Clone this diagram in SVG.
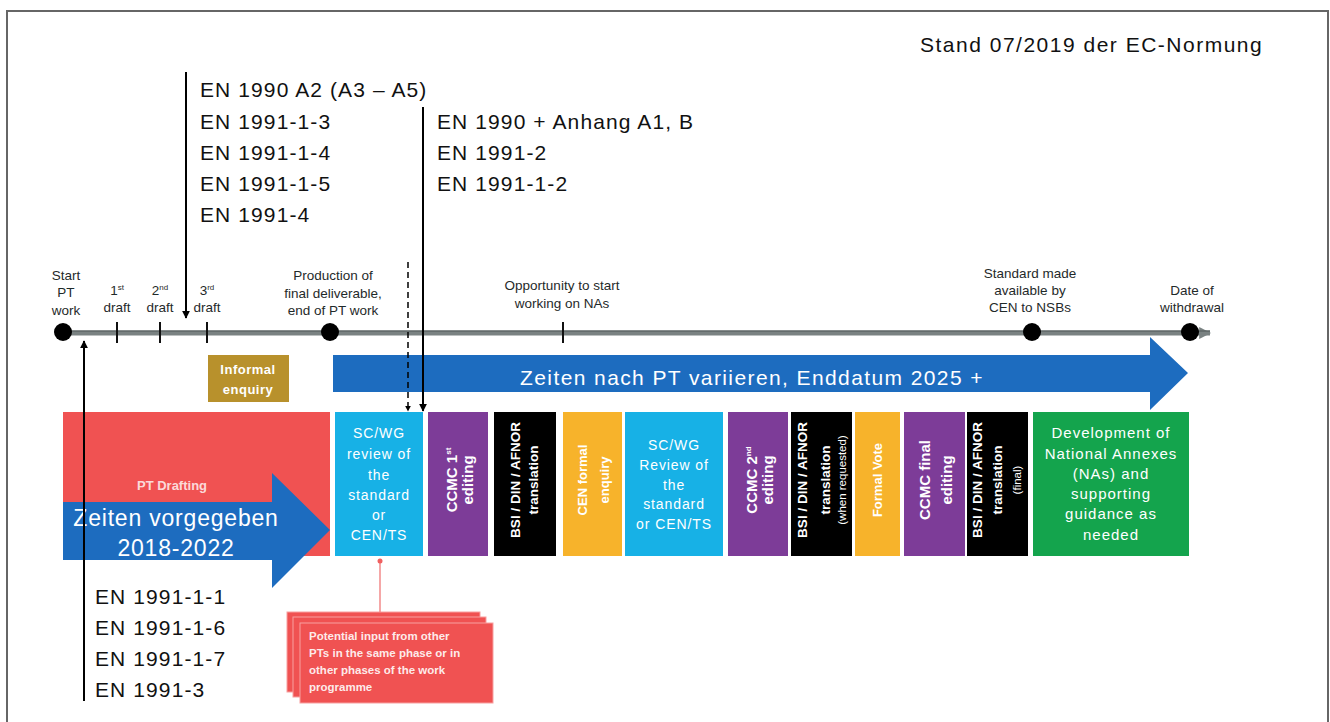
<svg xmlns="http://www.w3.org/2000/svg" width="1330" height="722" viewBox="0 0 1330 722">
<defs>
<marker id="ah" viewBox="0 0 10 10" refX="9" refY="5" markerWidth="4" markerHeight="4" orient="auto-start-reverse"><path d="M0,0 L10,5 L0,10 z" fill="#000"/></marker>
<marker id="tah" viewBox="0 0 10 10" refX="9" refY="5" markerWidth="2.4" markerHeight="2.4" orient="auto"><path d="M0,0 L10,5 L0,10 z" fill="#7a8282"/></marker>
<style>
.lab{font-family:"Liberation Sans",Arial,sans-serif;font-size:13.5px;fill:#1f2a2a;text-anchor:middle}
.en{font-family:"Liberation Sans",Arial,sans-serif;font-size:21px;fill:#111;letter-spacing:1.1px}
.wt{font-family:"Liberation Sans",Arial,sans-serif;fill:#fff;text-anchor:middle}
.bold{font-weight:bold}
.tick{stroke:#111;stroke-width:2}
.dot{fill:#000}
</style>
</defs>
<rect x="7" y="11" width="1321" height="720" fill="#fff" stroke="#666" stroke-width="2"/>
<text x="920" y="52" class="en" style="font-size:21px;letter-spacing:1.5px">Stand 07/2019 der EC-Normung</text>

<g id="timeline">
<line x1="63" y1="333" x2="1210" y2="333" stroke="#7a8282" stroke-width="5" marker-end="url(#tah)"/>
<line x1="63" y1="331" x2="1210" y2="331" stroke="#4e5656" stroke-width="1"/>
<line class="tick" x1="117" y1="322" x2="117" y2="343"/>
<line class="tick" x1="160" y1="322" x2="160" y2="343"/>
<line class="tick" x1="207" y1="322" x2="207" y2="343"/>
<line class="tick" x1="563" y1="322" x2="563" y2="343"/>
<circle class="dot" cx="63" cy="332" r="9"/>
<circle class="dot" cx="330" cy="332" r="9"/>
<circle class="dot" cx="1032" cy="332" r="9"/>
<circle class="dot" cx="1190" cy="332" r="9"/>
<text class="lab" x="66" y="280">Start</text><text class="lab" x="66" y="297">PT</text><text class="lab" x="66" y="315">work</text>
<text class="lab" x="117" y="295">1<tspan font-size="8" dy="-5">st</tspan></text><text class="lab" x="117" y="312">draft</text>
<text class="lab" x="160" y="295">2<tspan font-size="8" dy="-5">nd</tspan></text><text class="lab" x="160" y="312">draft</text>
<text class="lab" x="207" y="295">3<tspan font-size="8" dy="-5">rd</tspan></text><text class="lab" x="207" y="312">draft</text>
<text class="lab" x="333" y="280">Production of</text><text class="lab" x="333" y="298">final deliverable,</text><text class="lab" x="333" y="315">end of PT work</text>
<text class="lab" x="562" y="290">Opportunity to start</text><text class="lab" x="562" y="308">working on NAs</text>
<text class="lab" x="1030" y="278">Standard made</text><text class="lab" x="1030" y="295">available by</text><text class="lab" x="1030" y="312">CEN to NSBs</text>
<text class="lab" x="1192" y="295">Date of</text><text class="lab" x="1192" y="312">withdrawal</text>
</g>

<g id="informal-enquiry">
<rect x="208" y="355" width="81" height="47" fill="#b8912c"/>
<text class="wt bold" x="248" y="374" font-size="13" letter-spacing="0.5">Informal</text>
<text class="wt bold" x="248" y="394" font-size="13" letter-spacing="0.5">enquiry</text>
</g>

<g id="arrow-top">
<path d="M333,355 H1150 V337 L1188,373 L1150,410 V392 H333 z" fill="#1d6cbf"/>
<text class="wt" x="752" y="385" font-size="21" letter-spacing="1.4">Zeiten nach PT variieren, Enddatum 2025 +</text>
</g>

<g id="pt-drafting">
<rect x="63" y="412" width="267" height="144" fill="#f05252"/>
<text class="wt bold" x="172" y="490" font-size="13" fill-opacity="0.8">PT Drafting</text>
</g>

<g id="arrow-left">
<path d="M63,502 H272 V473 L330,530 L272,588 V560 H63 z" fill="#1d6cbf"/>
<text class="wt" x="176" y="526" font-size="23" letter-spacing="0.8">Zeiten vorgegeben</text>
<text class="wt" x="176" y="556" font-size="23" letter-spacing="0.8">2018-2022</text>
</g>

<g id="scwg-review">
<rect x="335" y="412" width="88" height="144" fill="#17b1e6"/>
<g class="wt" font-size="14" letter-spacing="0.9">
<text x="379" y="438">SC/WG</text><text x="379" y="459">review of</text><text x="379" y="480">the</text><text x="379" y="500">standard</text><text x="379" y="520">or</text><text x="379" y="540">CEN/TS</text>
</g>
</g>

<g id="ccmc1">
<rect x="428" y="412" width="60" height="144" fill="#7d3c98"/>
<text class="wt bold" font-size="15" fill="#f6cdef" transform="translate(458,480) rotate(-90)"><tspan x="0" y="-1">CCMC 1<tspan font-size="8" dy="-6">st</tspan></tspan><tspan x="0" y="15">editing</tspan></text>
</g>

<g id="translation1">
<rect x="494" y="412" width="62" height="144" fill="#000"/>
<text class="wt bold" font-size="13.5" transform="translate(525,480) rotate(-90)"><tspan x="0" y="-5">BSI / DIN / AFNOR</tspan><tspan x="0" y="13">translation</tspan></text>
</g>

<g id="cen-enquiry">
<rect x="563" y="412" width="59" height="144" fill="#f7b32b"/>
<text class="wt bold" font-size="13" fill="#fde7a6" transform="translate(593,480) rotate(-90)"><tspan x="0" y="-6">CEN formal</tspan><tspan x="0" y="16">enquiry</tspan></text>
</g>

<g id="scwg-review2">
<rect x="625" y="412" width="98" height="144" fill="#17b1e6"/>
<g class="wt" font-size="14" letter-spacing="0.9">
<text x="674" y="450">SC/WG</text><text x="674" y="470">Review of</text><text x="674" y="490">the</text><text x="674" y="509">standard</text><text x="674" y="529">or CEN/TS</text>
</g>
</g>

<g id="ccmc2">
<rect x="728" y="412" width="60" height="144" fill="#7d3c98"/>
<text class="wt bold" font-size="15" fill="#f6cdef" transform="translate(758,480) rotate(-90)"><tspan x="0" y="-1">CCMC 2<tspan font-size="8" dy="-6">nd</tspan></tspan><tspan x="0" y="15">editing</tspan></text>
</g>

<g id="translation2">
<rect x="791" y="412" width="61" height="144" fill="#000"/>
<text class="wt" font-size="13.5" transform="translate(822,480) rotate(-90)"><tspan x="0" y="-15" font-weight="bold">BSI / DIN / AFNOR</tspan><tspan x="0" y="8" font-weight="bold">translation</tspan><tspan x="0" y="24" font-size="11.5">(when requested)</tspan></text>
</g>

<g id="formal-vote">
<rect x="855" y="412" width="45" height="144" fill="#f7b32b"/>
<text class="wt bold" font-size="13" fill="#fde7a6" transform="translate(877,480) rotate(-90)"><tspan x="0" y="5">Formal Vote</tspan></text>
</g>

<g id="ccmc-final">
<rect x="904" y="412" width="61" height="144" fill="#7d3c98"/>
<text class="wt bold" font-size="15" fill="#f6cdef" transform="translate(935,480) rotate(-90)"><tspan x="0" y="-5">CCMC final</tspan><tspan x="0" y="17">editing</tspan></text>
</g>

<g id="translation3">
<rect x="967" y="412" width="61" height="144" fill="#000"/>
<text class="wt" font-size="13.5" transform="translate(998,480) rotate(-90)"><tspan x="0" y="-16" font-weight="bold">BSI / DIN / AFNOR</tspan><tspan x="0" y="4" font-weight="bold">translation</tspan><tspan x="0" y="23" font-size="11.5">(final)</tspan></text>
</g>

<g id="national-annexes">
<rect x="1033" y="412" width="156" height="144" fill="#14a44d"/>
<g class="wt" font-size="15" fill="#f4f6dc" letter-spacing="1">
<text x="1111" y="438">Development of</text><text x="1111" y="459">National Annexes</text><text x="1111" y="479">(NAs) and</text><text x="1111" y="499">supporting</text><text x="1111" y="519">guidance as</text><text x="1111" y="540">needed</text>
</g>
</g>

<g id="note">
<rect x="287" y="612" width="193" height="80" fill="#f05252" stroke="#f7a0a0" stroke-width="1"/>
<rect x="293" y="617" width="193" height="80" fill="#f05252" stroke="#f7a0a0" stroke-width="1"/>
<rect x="300" y="623" width="193" height="80" fill="#f05252" stroke="#f7a0a0" stroke-width="1"/>
<g font-family="Liberation Sans, Arial, sans-serif" font-size="11.5" font-weight="bold" fill="#fff" fill-opacity="0.9">
<text x="309" y="640">Potential input from other</text>
<text x="309" y="657">PTs in the same phase or in</text>
<text x="309" y="674">other phases of the work</text>
<text x="309" y="691">programme</text>
</g>
</g>

<g id="en-top">
<text class="en" x="200" y="97">EN 1990 A2 (A3 – A5)</text>
<text class="en" x="200" y="129">EN 1991-1-3</text>
<text class="en" x="200" y="160">EN 1991-1-4</text>
<text class="en" x="200" y="191">EN 1991-1-5</text>
<text class="en" x="200" y="222">EN 1991-4</text>
</g>
<g id="en-mid">
<text class="en" x="437" y="129">EN 1990 + Anhang A1, B</text>
<text class="en" x="437" y="160">EN 1991-2</text>
<text class="en" x="437" y="191">EN 1991-1-2</text>
</g>
<g id="en-bottom">
<text class="en" x="95" y="604">EN 1991-1-1</text>
<text class="en" x="95" y="635">EN 1991-1-6</text>
<text class="en" x="95" y="666">EN 1991-1-7</text>
<text class="en" x="95" y="697">EN 1991-3</text>
</g>

<g id="connectors">
<line x1="186" y1="72" x2="186" y2="318" stroke="#000" stroke-width="2" marker-end="url(#ah)"/>
<line x1="423" y1="107" x2="423" y2="411" stroke="#000" stroke-width="2" marker-end="url(#ah)"/>
<line x1="408" y1="262" x2="408" y2="411" stroke="#000" stroke-width="1.5" stroke-dasharray="6,4" marker-end="url(#ah)"/>
<line x1="84" y1="701" x2="84" y2="341" stroke="#000" stroke-width="2" marker-end="url(#ah)"/>
<line x1="380" y1="560" x2="380" y2="612" stroke="#f28a8a" stroke-width="1.5"/>
<circle cx="380" cy="561" r="2.5" fill="#f06060"/>
</g>
</svg>
